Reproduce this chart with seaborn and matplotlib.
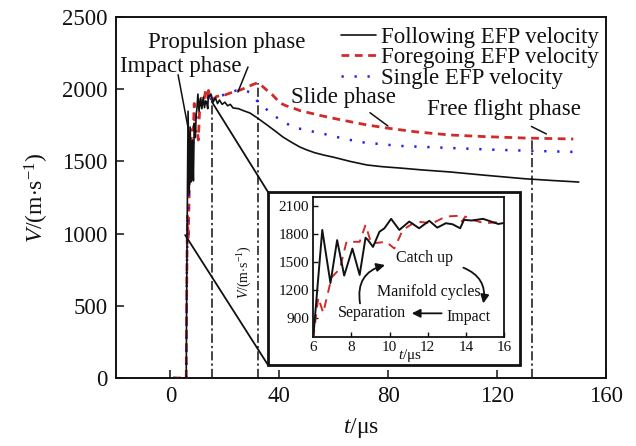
import numpy as np
import pandas as pd
import matplotlib
matplotlib.use("Agg")
import matplotlib.pyplot as plt
import seaborn as sns
from matplotlib.patches import ConnectionPatch, FancyArrowPatch, Rectangle

# ---------------- data ----------------
follow_t = [1.0, 5.8, 6.0, 6.47, 6.9, 7.25, 7.62, 8.05, 8.43, 8.74, 8.87, 9.13, 9.47, 9.73,
            10.08, 10.51, 11.03, 11.55, 12.08, 12.5, 12.95, 13.3, 13.7, 13.9, 14.3, 14.9,
            15.7, 16.5, 17.3, 18.0, 19.0, 20.0, 21.0, 22.0, 23.0, 25.0, 27.0, 29.2, 32.0,
            35.5, 38.5, 41.3, 44.5, 47.5, 50.0, 53.0, 56.5, 59.7, 66.0, 72.2, 78.0, 84.3,
            93.0, 102.6, 115.0, 130.0, 140.0, 150.0]
follow_v = [0, 0, 700, 1847, 1278, 1738, 1358, 1647, 1365, 1764, 1738, 1665, 1828, 1865,
            1966, 1847, 1937, 1865, 1945, 1872, 1919, 1908, 1865, 1955, 1948, 1966,
            1911, 1940, 1900, 1925, 1895, 1910, 1885, 1895, 1870, 1865, 1850, 1835, 1800,
            1752, 1710, 1669, 1632, 1600, 1580, 1560, 1543, 1530, 1500, 1475, 1463, 1454,
            1440, 1427, 1405, 1380, 1368, 1357]

fore_t = [1.0, 5.8, 6.0, 6.26, 6.52, 6.96, 7.39, 7.74, 8.43, 8.74, 9.04, 9.82, 10.25,
          10.69, 11.38, 12.25, 12.95, 13.64, 13.8, 13.97, 14.33, 15.0, 17.0, 20.0, 22.0,
          25.0, 27.4, 30.0, 31.8, 33.5, 35.0, 37.5, 40.3, 42.5, 45.0, 47.5, 51.3, 55.0,
          62.0, 72.0, 79.5, 90.0, 102.6, 115.0, 130.0, 148.0]
fore_v = [0, 0, 690, 1122, 959, 1339, 1430, 1720, 1720, 1901, 1702, 1720, 1648,
          1847, 1937, 1919, 1991, 1999, 1937, 1991, 1955, 1919, 1950, 1960, 1974,
          1990, 2008, 2030, 2043, 2025, 2000, 1960, 1904, 1885, 1870, 1852, 1835, 1818,
          1790, 1753, 1731, 1705, 1683, 1672, 1662, 1655]

single_t = [1.0, 5.8, 6.0, 6.3, 6.7, 7.2, 7.8, 8.5, 9.3, 10.2, 11.5, 13.0, 15.0, 18.0,
            21.0, 24.0, 26.5, 29.0, 32.2, 35.0, 37.7, 41.0, 45.0, 50.0, 54.9, 62.0, 69.6,
            77.0, 84.3, 102.6, 120.0, 135.0, 149.0]
single_v = [0, 0, 700, 1050, 1250, 1400, 1500, 1650, 1780, 1870, 1910, 1925, 1935, 1950,
            1970, 1990, 1995, 1980, 1911, 1865, 1821, 1780, 1738, 1715, 1697, 1665, 1634,
            1620, 1607, 1593, 1580, 1572, 1565]

series_labels = ["Following EFP velocity", "Foregoing EFP velocity", "Single EFP velocity"]

phase_t = [15.4, 32.0, 133.0]
phase_v = [1940, 2040, 1662]

x_ticks = [0, 40, 80, 120, 160]
y_ticks = [0, 500, 1000, 1500, 2000, 2500]
inset_x_ticks = [6, 8, 10, 12, 14, 16]
inset_y_ticks = [900, 1200, 1500, 1800, 2100]

# ---------------- style ----------------
sns.set_theme(style="ticks")
plt.rcParams["font.family"] = ["Liberation Serif", "DejaVu Serif"]
plt.rcParams["mathtext.fontset"] = "custom"
plt.rcParams["mathtext.rm"] = "Liberation Serif"
plt.rcParams["mathtext.it"] = "Liberation Serif:italic"
plt.rcParams["xtick.direction"] = "in"
plt.rcParams["ytick.direction"] = "in"

BLACK = "#111111"
RED = "#d12a2a"
BLUE = "#2020ee"

df_f = pd.DataFrame({"t": follow_t, "v": follow_v})
df_r = pd.DataFrame({"t": fore_t, "v": fore_v})
df_s = pd.DataFrame({"t": single_t, "v": single_v})

fig = plt.figure(figsize=(6.36, 4.46), dpi=100)
ax = fig.add_axes([0.1824, 0.1525, 0.7704, 0.8094])

red_ls = (0, (2.8, 2.0))
blue_ls = (0, (0.9, 4.3))

sns.lineplot(data=df_f, x="t", y="v", ax=ax, color=BLACK, lw=1.2, estimator=None,
             label=series_labels[0], zorder=4)
sns.lineplot(data=df_r, x="t", y="v", ax=ax, color=RED, lw=2.0, linestyle=red_ls,
             estimator=None, label=series_labels[1], zorder=3)
sns.lineplot(data=df_s, x="t", y="v", ax=ax, color=BLUE, lw=1.8, linestyle=blue_ls,
             estimator=None, label=series_labels[2], zorder=3)

ax.vlines(phase_t, 0, phase_v, colors=BLACK, lw=1.1, linestyles=[(0, (6, 2, 1.5, 2))],
          zorder=2)

ax.set_xlim(-20, 160)
ax.set_ylim(0, 2500)
ax.set_xticks(x_ticks)
ax.set_yticks(y_ticks)
ax.tick_params(axis="both", labelsize=16.5, length=6, width=1.1, colors=BLACK, pad=6)
for s in ax.spines.values():
    s.set_linewidth(1.4)
    s.set_color(BLACK)
ax.set_xlabel(r"$t$/μs", fontsize=17, color=BLACK, labelpad=6)
ax.set_ylabel(r"$V$/(m$\cdot$s$^{-1}$)", fontsize=17, color=BLACK, labelpad=8)

leg = ax.legend(loc="upper right", bbox_to_anchor=(0.985, 0.972), frameon=False,
                fontsize=16.5, handlelength=1.55, handletextpad=0.2, labelspacing=-0.03,
                borderpad=0.0, borderaxespad=0.0)
for txt in leg.get_texts():
    txt.set_color(BLACK)

# phase annotations
ax.text(3.9, 2154, "Impact phase", fontsize=16.5, ha="center", va="center", color=BLACK)
ax.text(20.5, 2320, "Propulsion phase", fontsize=16.5, ha="center", va="center", color=BLACK)
ax.text(63.7, 1939, "Slide phase", fontsize=16.5, ha="center", va="center", color=BLACK)
ax.text(122.5, 1856, "Free flight phase", fontsize=16.5, ha="center", va="center", color=BLACK)
for (x0, y0), (x1, y1) in [((2.8, 2100), (7.9, 1590)), ((28.5, 2154), (24.8, 1981)),
                           ((73.3, 1837), (79.9, 1745)), ((132.6, 1742), (138.1, 1690))]:
    ax.annotate("", xy=(x1, y1), xytext=(x0, y0),
                arrowprops=dict(arrowstyle="-", color=BLACK, lw=1.1, shrinkA=0, shrinkB=0))

# ---------------- inset ----------------
frame = Rectangle((0.4214, 0.1816), 0.3962, 0.3879, transform=fig.transFigure,
                  facecolor="white", edgecolor=BLACK, lw=2.0, zorder=5)
fig.patches.append(frame)

# connector lines
for (xd, yd), (xf, yf) in [((5.4, 990), (0.4214, 0.1816)), ((15.2, 1913), (0.4214, 0.5695))]:
    cp = ConnectionPatch(xyA=(xd, yd), coordsA=ax.transData, xyB=(xf, yf),
                         coordsB=fig.transFigure, color=BLACK, lw=1.3)
    fig.add_artist(cp)

ins = fig.add_axes([0.4926, 0.2444, 0.2999, 0.3139], zorder=6)
sns.lineplot(data=df_f, x="t", y="v", ax=ins, color=BLACK, lw=1.4, estimator=None, zorder=4)
sns.lineplot(data=df_r, x="t", y="v", ax=ins, color=RED, lw=1.4, linestyle=(0, (4.5, 3.5)),
             estimator=None, zorder=3)
ins.set_xlim(6, 16)
ins.set_ylim(700, 2200)
ins.set_xticks(inset_x_ticks)
ins.set_yticks(inset_y_ticks)
ins.set_xlabel("")
ins.set_ylabel("")
ins.tick_params(axis="both", labelsize=11, length=3.5, width=1.0, colors=BLACK, pad=3)
for s in ins.spines.values():
    s.set_linewidth(1.3)
    s.set_color(BLACK)

fig.text(0.645, 0.204, r"$t$/μs", fontsize=11, ha="center", va="center", color=BLACK,
         zorder=7)
fig.text(0.385, 0.39, r"$V$/(m$\cdot$s$^{-1}$)", fontsize=10, rotation=90,
         ha="center", va="center", color=BLACK)

ins.text(0.584, 0.562, "Catch up", transform=ins.transAxes, fontsize=11.5, ha="center",
         va="center", color=BLACK)
ins.text(0.607, 0.324, "Manifold cycles", transform=ins.transAxes, fontsize=11.5,
         ha="center", va="center", color=BLACK)
ins.text(0.306, 0.169, "Separation", transform=ins.transAxes, fontsize=11.5, ha="center",
         va="center", color=BLACK)
ins.text(0.816, 0.145, "Impact", transform=ins.transAxes, fontsize=11.5, ha="center",
         va="center", color=BLACK)

for (p0, p1, rad) in [((0.245, 0.24), (0.376, 0.514), -0.45),
                      ((0.787, 0.495), (0.891, 0.24), -0.4),
                      ((0.673, 0.169), (0.516, 0.169), 0.0)]:
    arr = FancyArrowPatch(p0, p1, transform=ins.transAxes,
                          connectionstyle=f"arc3,rad={rad}",
                          arrowstyle="-|>,head_length=5,head_width=2.5",
                          color=BLACK, lw=1.3, shrinkA=0, shrinkB=0)
    ins.add_patch(arr)

fig.savefig("out.png", dpi=100)
